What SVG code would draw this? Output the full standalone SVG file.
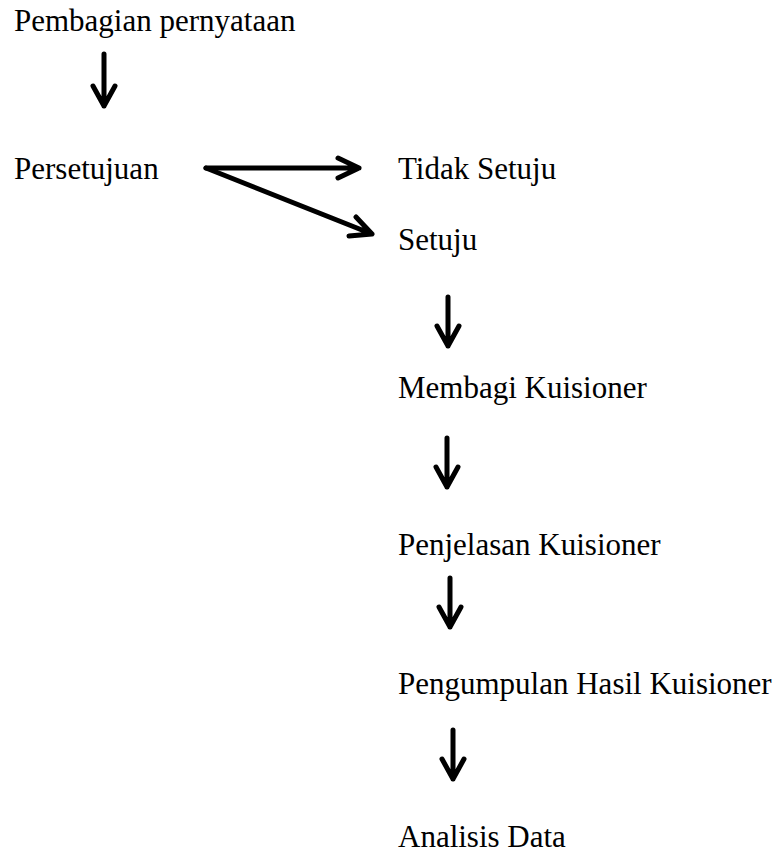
<svg xmlns="http://www.w3.org/2000/svg" width="784" height="853" viewBox="0 0 784 853">
<style>
.t{font-family:"Liberation Serif","Times New Roman",serif;font-size:31px;fill:#000}
.a{fill:none;stroke:#000;stroke-width:5;stroke-linecap:round;stroke-linejoin:round}
</style>
<rect width="784" height="853" fill="#fff"/>
<g id="n1"><text class="t" x="14" y="31">Pembagian pernyataan</text></g>
<g id="n2"><text class="t" x="14" y="179">Persetujuan</text></g>
<g id="n3"><text class="t" x="398" y="179">Tidak Setuju</text></g>
<g id="n4"><text class="t" x="398" y="250">Setuju</text></g>
<g id="n5"><text class="t" x="398" y="398">Membagi Kuisioner</text></g>
<g id="n6"><text class="t" x="398" y="555">Penjelasan Kuisioner</text></g>
<g id="n7"><text class="t" x="398" y="694">Pengumpulan Hasil Kuisioner</text></g>
<g id="n8"><text class="t" x="398" y="847">Analisis Data</text></g>
<g id="connectors">
<path class="a" d="M104 54V106M93 86L104 106L115 86"/>
<path class="a" d="M206 168L359 168M338 158L359 168L338 178"/>
<path class="a" d="M206 168L372 234M356 217L372 234L349 236"/>
<path class="a" d="M448 297V346M437 326L448 346L459 326"/>
<path class="a" d="M447 438V487M436 467L447 487L458 467"/>
<path class="a" d="M450 578V627M439 607L450 627L461 607"/>
<path class="a" d="M453 730V779M442 759L453 779L464 759"/>
</g>
</svg>
